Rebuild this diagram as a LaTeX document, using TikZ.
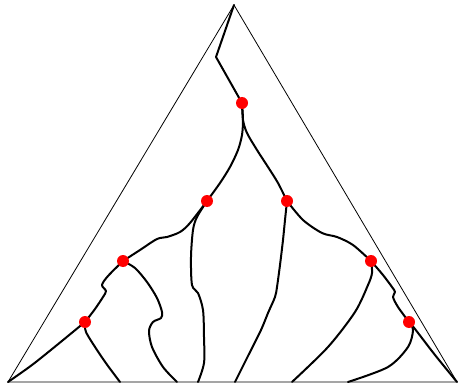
\documentclass[tikz,border=0pt]{standalone}
\begin{document}
\begin{tikzpicture}[x=1pt,y=-1pt,
  edge/.style={line width=2pt,line join=round,line cap=round},
  tri/.style={line width=0.8pt},
  dot/.style={circle,fill=red,draw=none,minimum size=12pt,inner sep=0pt}]
\useasboundingbox (0,0) rectangle (458,385);
% main points
\coordinate (T) at (234,5);
\coordinate (L) at (8,382);
\coordinate (R) at (457,382);
\coordinate (Z) at (216,57);
\coordinate (A) at (242,103);
\coordinate (B) at (207,201);
\coordinate (C) at (287,201);
\coordinate (D) at (123,261);
\coordinate (E) at (371,261);
\coordinate (F) at (85,322);
\coordinate (G) at (409,322);
\coordinate (b1) at (120,382);
\coordinate (b2) at (177,382);
\coordinate (b3) at (198,382);
\coordinate (b4) at (235,382);
\coordinate (b5) at (292,382);
\coordinate (b6) at (348,382);
% triangle
\draw[tri] (T) -- (L) -- (R) -- cycle;
% tree
\draw[edge] (T) -- (Z) -- (A);
\draw[edge] plot[smooth] coordinates {(A) (243,120) (242,135) (238,150) (230,167) (220,183) (B)};
\draw[edge] plot[smooth] coordinates {(A) (243,120) (247,133) (257,150) (268,167) (278,183) (C)};
\draw[edge] plot[smooth] coordinates {(B) (190,223) (180,232) (167,237) (157,239) (140,250) (D)};
\draw[edge] plot[smooth] coordinates {(B) (197,217) (193,230) (191,257) (192,285) (198,293) (203,310) (204,337) (204,363) (b3)};
\draw[edge] plot[smooth] coordinates {(D) (108,276) (102,285) (106,291) (103,297) (95,309) (F)};
\draw[edge] plot[smooth] coordinates {(D) (135,268) (147,282) (157,298) (162,312) (161,318) (153,322) (149,331) (152,347) (163,367) (b2)};
\draw[edge] plot[smooth] coordinates {(F) (57,345) (32,365) (L)};
\draw[edge] plot[smooth] coordinates {(F) (86,332) (97,350) (108,366) (b1)};
\draw[edge] plot[smooth] coordinates {(C) (285,220) (283,240) (280,265) (277,287) (275,297) (268,313) (261,330) (248,356) (b4)};
\draw[edge] plot[smooth] coordinates {(C) (303,220) (322,233) (337,237) (353,245) (E)};
\draw[edge] plot[smooth] coordinates {(E) (383,275) (392,287) (395,292) (393,297) (398,307) (G)};
\draw[edge] plot[smooth] coordinates {(E) (372,273) (368,285) (355,312) (328,347) (b5)};
\draw[edge] plot[smooth] coordinates {(G) (415,329) (435,355) (R)};
\draw[edge] plot[smooth] coordinates {(G) (413,330) (408,347) (388,367) (b6)};
% dots
\foreach \p in {A,B,C,D,E,F,G}
  \node[dot] (d\p) at (\p) {};
\end{tikzpicture}
\end{document}
